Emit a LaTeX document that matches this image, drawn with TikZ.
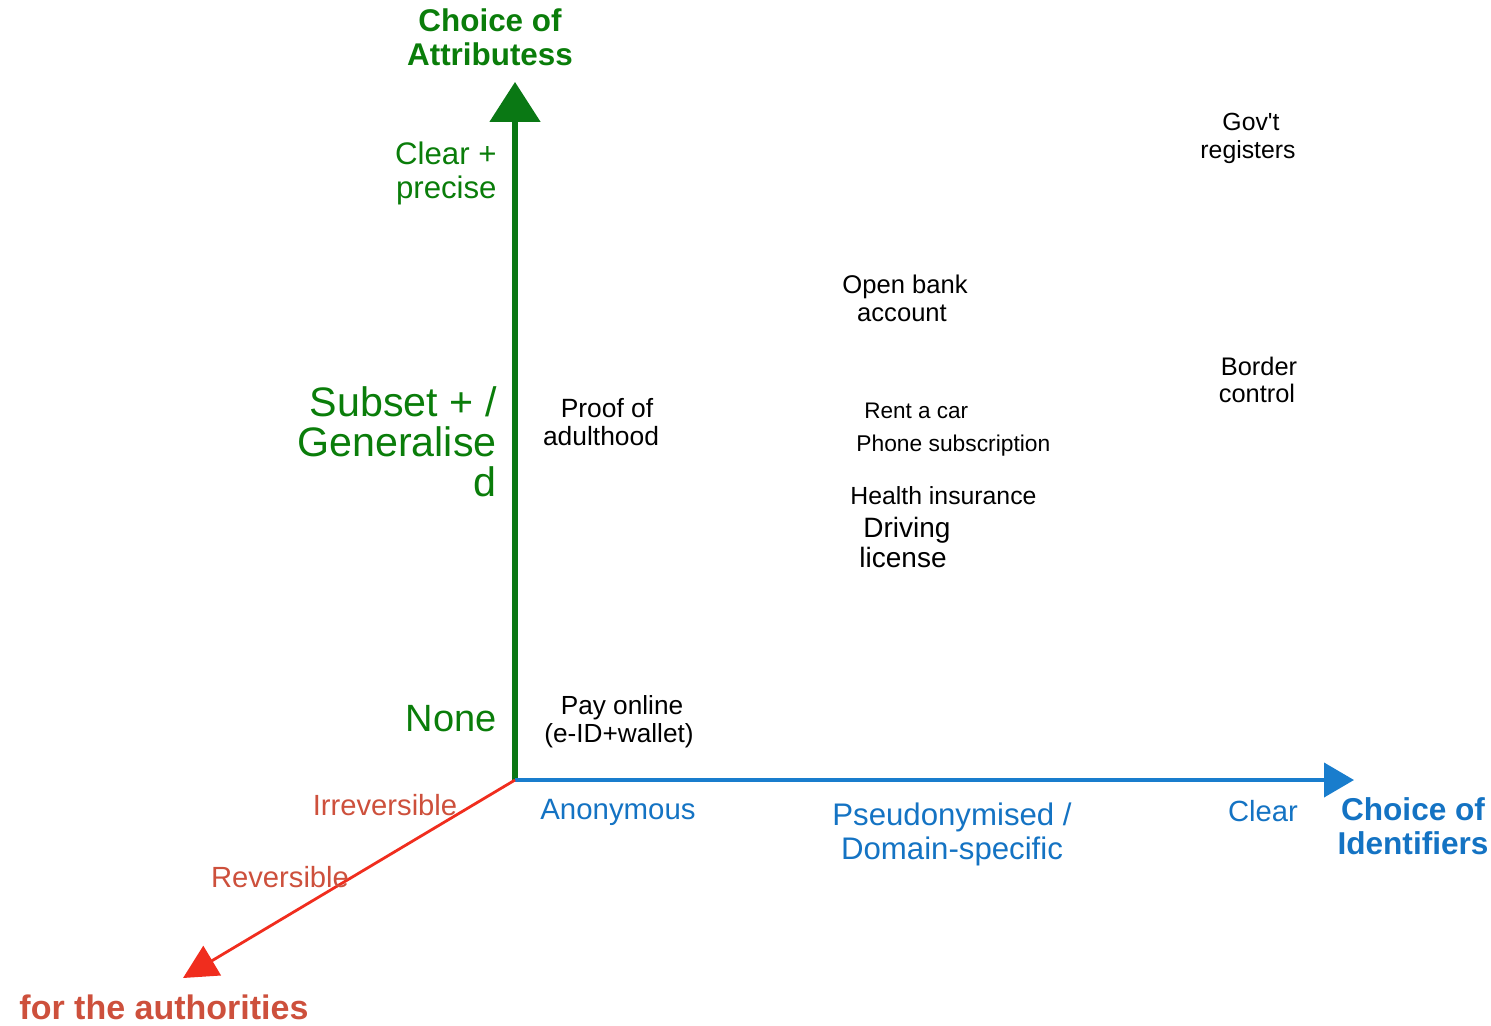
\documentclass[tikz,border=0pt]{standalone}
\usepackage{fontspec}
\setmainfont{Liberation Sans}[Ligatures=TeXOff]
\usetikzlibrary{arrows.meta}
\definecolor{axgreen}{RGB}{10,120,20}
\definecolor{txgreen}{RGB}{10,125,10}
\definecolor{axblue}{RGB}{25,125,205}
\definecolor{txblue}{RGB}{20,115,195}
\definecolor{axred}{RGB}{240,45,30}
\definecolor{txred}{RGB}{205,80,60}
\tikzset{
  lbl/.style={inner sep=0pt, align=center},
  fs/.style 2 args={font=\fontsize{#1}{#2}\selectfont},
  bfs/.style 2 args={font=\bfseries\fontsize{#1}{#2}\selectfont},
}
\begin{document}
\begin{tikzpicture}[x=0.5pt,y=-0.5pt]
\useasboundingbox (0,0) rectangle (1491,1026);
% axes
\coordinate (O) at (515,780);
\coordinate (Ytip) at (515,82);
\coordinate (Xtip) at (1354,780);
\coordinate (Ztip) at (183,978);
\draw[axgreen, line width=2.6pt, -{Triangle[width=25pt,length=20pt]}] (O) -- (Ytip);
\draw[axblue, line width=2pt, -{Triangle[width=17pt,length=15pt]}] (O) -- (Xtip);
\draw[axred, line width=1.4pt, -{Triangle[width=17pt,length=17pt]}] (O) -- (Ztip);
% green axis labels
\node[lbl, txgreen, bfs={15.7}{17}] (ytitle) at (490,37) {Choice of\\Attributess};
\node[lbl, txgreen, align=right, anchor=east, fs={15.6}{17}] (clear) at (497,173) {Clear +\\precise};
\node[lbl, txgreen, align=right, anchor=east, fs={20.6}{20}] (subset) at (497,442) {Subset + /\\Generalise\\d};
\node[lbl, txgreen, anchor=east, fs={19}{20}] (none) at (497,719) {None};
% blue axis labels
\node[lbl, txblue, fs={14.7}{17}] (anon) at (618,812) {Anonymous};
\node[lbl, txblue, fs={15.6}{17}] (pseudo) at (952,834) {Pseudonymised /\\Domain-specific};
\node[lbl, txblue, fs={14.6}{17}] (clearx) at (1263,811) {Clear};
\node[lbl, txblue, bfs={15.8}{17}] (xtitle) at (1413,826) {Choice of\\Identifiers};
% red axis labels
\node[lbl, txred, fs={14.6}{16}] (irrev) at (385,805) {Irreversible};
\node[lbl, txred, fs={14.6}{16}] (rev) at (280,877) {Reversible};
\node[lbl, txred, bfs={17}{18}] (auth) at (164,1007) {for the authorities};
% items
\node[lbl, fs={12.4}{14}] (gov) at (1248,138) {\hspace*{3pt}Gov't\\registers};
\node[lbl, fs={12.8}{14}] (bank) at (905,298) {Open bank\\\hspace*{-3pt}account};
\node[lbl, fs={12.7}{13.5}] (border) at (1257,380) {\hspace*{2pt}Border\\control};
\node[lbl, fs={13.2}{14}] (proof) at (601,422) {\hspace*{6pt}Proof of\\adulthood};
\node[lbl, anchor=west, fs={11.25}{13}] (rent) at (864,411) {Rent a car};
\node[lbl, anchor=west, fs={11.4}{13}] (phone) at (856,446) {Phone subscription};
\node[lbl, anchor=west, fs={12.4}{14}] (health) at (850,496) {Health insurance};
\node[lbl, fs={14}{15}] (driving) at (903,542) {\hspace*{4pt}Driving\\license};
\node[lbl, fs={13.1}{14}] (pay) at (619,722) {\hspace*{3pt}Pay online\\(e-ID+wallet)};
\end{tikzpicture}
\end{document}
